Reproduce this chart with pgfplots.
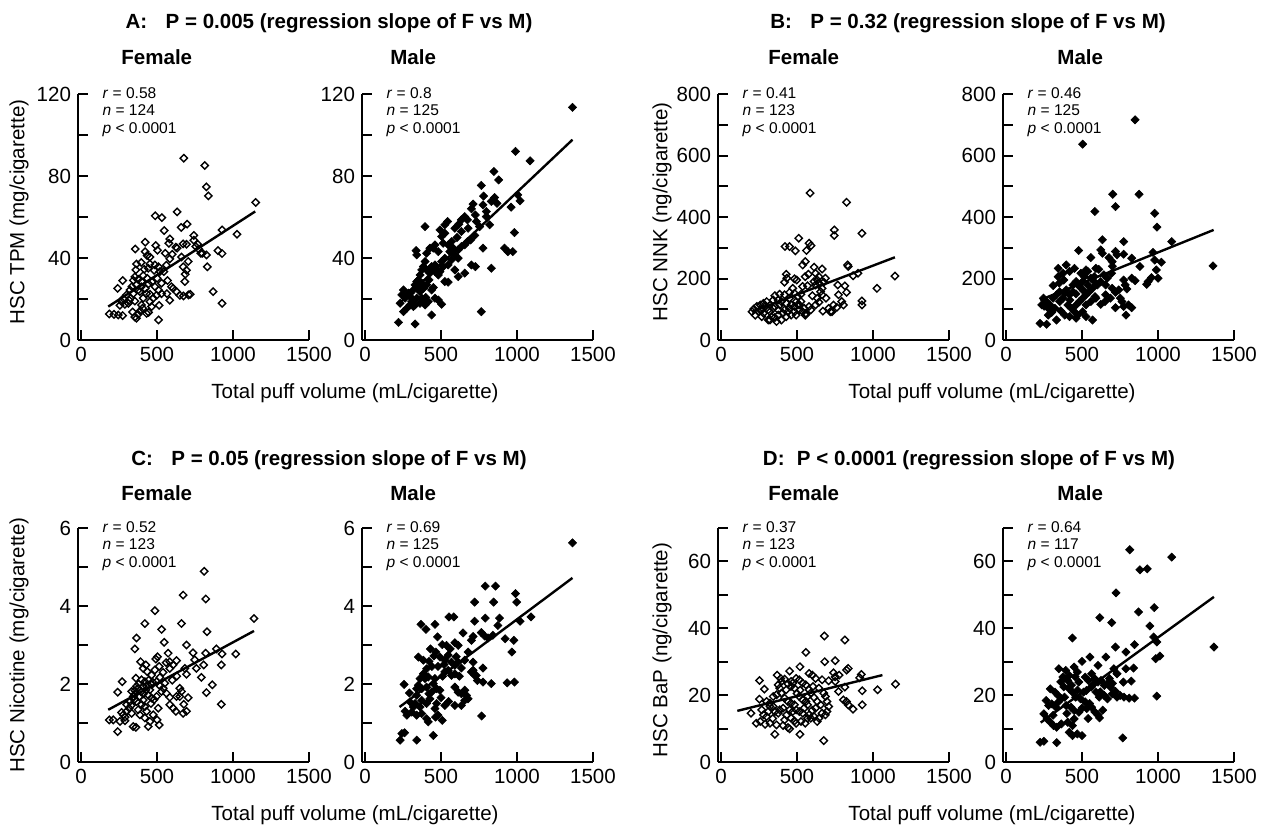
\documentclass[border=0pt]{standalone}
\usepackage{fontspec}
\setmainfont{Liberation Sans}
\usepackage{pgfplots}
\pgfplotsset{compat=1.18}

\newcommand{\mainfs}{\fontsize{10.3}{12}\selectfont}
\newcommand{\annfs}{\fontsize{7.8}{8.75}\selectfont}

\pgfplotsset{
  panel/.style={
    scale only axis, width=115.5bp, anchor=south west,
    axis lines*=left, axis line style={line width=1bp, -},
    tick align=inside, major tick length=5bp,
    tick style={line width=1bp, black},
    xmin=-20, xmax=1500, xtick={0,500,1000,1500},
    tick label style={font=\mainfs},
    /pgf/number format/assume math mode=true,
    /pgf/number format/1000 sep={},
    clip=false,
  },
  fem/.style={only marks, mark=square, mark size=1.3bp,
    mark options={rotate=45, draw=black, line width=0.7bp}},
  mal/.style={only marks, mark=square*, mark size=1.45bp,
    mark options={rotate=45, draw=black, fill=black, line width=0.3bp}},
  reg/.style={black, line width=1.2bp, no marks},
}

% r, n, p lines in the top left corner of a panel
\newcommand{\annot}[2]{%
  \node[anchor=base west, inner sep=0, font=\annfs, yshift=-2.2bp] at (rel axis cs:0.105,1) {\textit{r} = #1};
  \node[anchor=base west, inner sep=0, font=\annfs, yshift=-10.9bp] at (rel axis cs:0.105,1) {\textit{n} = #2};
  \node[anchor=base west, inner sep=0, font=\annfs, yshift=-19.6bp] at (rel axis cs:0.105,1) {\textit{p} < 0.0001};
}

\begin{document}
\begin{tikzpicture}
\path[use as bounding box] (0,0) rectangle (636bp,-415bp);

% ---------- titles and labels ----------
\node[font=\mainfs\bfseries] at (164.5bp,-11.5bp) {A:\hspace{0.9em}P = 0.005 (regression slope of F vs M)};
\node[font=\mainfs\bfseries] at (484bp,-11.5bp) {B:\hspace{0.9em}P = 0.32 (regression slope of F vs M)};
\node[font=\mainfs\bfseries] at (164.5bp,-230bp) {C:\hspace{0.9em}P = 0.05 (regression slope of F vs M)};
\node[font=\mainfs\bfseries] at (484.5bp,-230bp) {D:\hspace{0.6em}P < 0.0001 (regression slope of F vs M)};

\foreach \yy in {-28.5,-246.5}{
  \node[font=\mainfs\bfseries, anchor=west, inner sep=0] at (60.5bp,\yy bp) {Female};
  \node[font=\mainfs\bfseries, anchor=west, inner sep=0] at (195bp,\yy bp) {Male};
  \node[font=\mainfs\bfseries, anchor=west, inner sep=0] at (384bp,\yy bp) {Female};
  \node[font=\mainfs\bfseries, anchor=west, inner sep=0] at (528.5bp,\yy bp) {Male};
}

\node[font=\mainfs] at (177.5bp,-196.5bp) {Total puff volume (mL/cigarette)};
\node[font=\mainfs] at (496bp,-196.5bp) {Total puff volume (mL/cigarette)};
\node[font=\mainfs] at (177.5bp,-407.5bp) {Total puff volume (mL/cigarette)};
\node[font=\mainfs] at (496bp,-407.5bp) {Total puff volume (mL/cigarette)};

\node[font=\mainfs, rotate=90] at (9.5bp,-106bp) {HSC TPM (mg/cigarette)};
\node[font=\mainfs, rotate=90] at (331bp,-106bp) {HSC NNK (ng/cigarette)};
\node[font=\mainfs, rotate=90] at (9.5bp,-322.5bp) {HSC Nicotine (mg/cigarette)};
\node[font=\mainfs, rotate=90] at (331bp,-325bp) {HSC BaP (ng/cigarette)};

% ---------- A: TPM ----------
\begin{axis}[panel, at={(39bp,-170bp)}, height=123bp,
  ymin=0, ymax=120, ytick={0,20,...,120}, yticklabels={0,,40,,80,,120}]
\addplot[fem] coordinates {
(676,88.7)(814,85.1)(825,74.7)(838,70.3)(1149,67.1)(632,62.5)(488,60.6)(532,59.7)(698,56.5)(659,54.9)
(928,53.7)(1026,51.6)(547,53.4)(742,51.0)(584,49.3)(578,47.2)(422,47.7)(672,46.9)(624,45.3)(492,46.1)
(503,43.8)(357,44.4)(755,45.6)(775,44.3)(799,42.3)(825,41.5)(901,43.6)(928,42.2)(554,42.3)(600,41.8)
(661,40.5)(422,43.1)(435,41.2)(453,40.5)(365,37.1)(396,37.8)(453,37.1)(486,36.6)(510,35.7)(562,36.5)
(519,33.4)(481,34.0)(672,35.7)(694,34.0)(685,32.1)(705,38.3)(831,35.7)(361,34.2)(354,30.8)(344,29.1)
(409,31.4)(435,30.1)(466,28.3)(274,29.0)(241,25.2)(335,26.0)(365,26.9)(396,26.0)(422,25.1)(387,23.6)
(431,22.6)(344,22.6)(376,24.4)(486,26.0)(510,24.3)(497,21.8)(475,20.4)(569,29.0)(683,28.5)(530,22.6)
(565,22.6)(584,19.4)(628,23.6)(650,21.8)(674,21.5)(707,22.0)(718,22.3)(869,23.6)(928,17.9)(300,22.0)
(278,20.2)(317,19.4)(289,17.4)(256,16.9)(267,18.7)(514,16.9)(186,12.7)(217,12.5)(245,12.2)(274,11.9)
(354,11.2)(376,12.5)(389,14.2)(405,15.5)(431,13.0)(444,13.5)(510,9.8)(339,13.7)(365,10.6)(453,22.3)
(322,24.4)(398,28.5)(416,34.5)(501,30.1)(595,26.0)(606,25.2)(545,33.4)(584,39.6)(632,44.8)(742,48.7)
(768,46.7)(788,42.3)(326,20.4)(311,17.9)(453,18.7)(464,16.3)(409,20.4)(398,17.1)(354,19.0)(530,27.7)
(444,27.4)(694,46.7)(442,35.0)(376,29.6)
};
\addplot[reg] coordinates {(179,16.3) (1146,62.7)};
\annot{0.58}{124}
\end{axis}

\begin{axis}[panel, at={(181bp,-170bp)}, height=123bp,
  ymin=0, ymax=120, ytick={0,20,...,120}, yticklabels={0,,40,,80,,120}]
\addplot[mal] coordinates {
(1365,113.5)(990,92.0)(1086,87.4)(848,82.2)(879,78.1)(765,75.4)(780,70.2)(852,69.5)(868,66.7)(831,67.6)
(1005,70.8)(1020,67.9)(961,64.8)(711,66.3)(700,64.0)(726,61.0)(776,65.9)(798,62.7)(820,56.2)(656,60.2)
(634,58.6)(674,58.6)(617,56.5)(591,54.5)(543,57.8)(525,56.2)(493,53.7)(395,55.3)(722,51.0)(694,48.8)
(674,48.0)(983,52.4)(656,46.4)(634,45.6)(613,44.0)(569,48.0)(547,46.4)(514,47.2)(460,46.4)(449,44.8)
(482,43.1)(776,44.8)(918,44.8)(940,43.1)(972,43.1)(336,43.6)(340,41.5)(591,41.5)(613,39.9)(569,39.1)
(525,39.9)(504,38.3)(547,36.6)(460,36.6)(438,35.8)(471,34.2)(395,38.3)(384,35.8)(373,34.2)(700,36.6)
(726,35.8)(831,35.0)(591,34.2)(613,30.9)(656,32.6)(525,28.5)(547,28.2)(362,31.7)(351,29.3)(373,27.7)
(405,34.2)(427,32.6)(460,33.4)(482,31.7)(449,25.6)(438,24.4)(318,24.4)(296,22.8)(253,24.4)(242,22.0)
(340,20.4)(373,20.4)(399,20.8)(416,18.7)(307,18.7)(329,17.1)(362,17.9)(318,16.3)(504,17.4)(482,19.5)
(460,20.4)(231,17.9)(253,13.8)(438,12.2)(765,13.8)(220,8.6)(329,7.8)(340,28.5)(329,26.9)(286,22.8)
(264,20.4)(362,23.6)(384,25.2)(405,26.9)(421,29.3)(514,35.8)(493,33.4)(558,43.1)(580,44.8)(634,52.9)
(678,54.5)(732,57.8)(754,55.3)(798,60.2)(504,50.5)(525,52.1)(427,44.8)(405,42.3)(296,17.1)(275,15.5)
(307,20.4)(395,17.1)(384,18.7)(605,50.0)(350,25.5)
};
\addplot[reg] coordinates {(220,17.4) (1365,97.7)};
\annot{0.8}{125}
\end{axis}

% ---------- B: NNK ----------
\begin{axis}[panel, at={(359bp,-170bp)}, height=123bp,
  ymin=0, ymax=800, ytick={0,100,...,800}, yticklabels={0,,200,,400,,600,,800}]
\addplot[fem] coordinates {
(586,478)(826,448)(745,358)(745,340)(927,347)(511,331)(579,315)(592,307)(421,304)(451,304)
(489,290)(562,291)(554,255)(537,244)(612,237)(665,231)(833,244)(837,239)(575,214)(622,217)
(644,206)(429,214)(433,201)(418,188)(498,195)(483,199)(644,185)(687,201)(869,209)(901,217)
(1144,208)(569,176)(768,179)(815,176)(826,155)(622,179)(665,168)(601,144)(633,136)(665,147)
(691,136)(1026,168)(927,127)(927,114)(740,114)(762,106)(730,92)(708,103)(794,125)(805,114)
(670,94)(719,92)(590,98)(558,84)(554,81)(418,147)(451,136)(483,152)(504,141)(526,149)
(354,144)(386,149)(376,130)(343,130)(397,125)(429,119)(461,114)(494,125)(515,114)(300,125)
(279,119)(258,114)(236,109)(204,92)(225,81)(258,98)(268,76)(279,87)(322,92)(333,76)
(311,65)(354,73)(376,81)(408,87)(418,98)(440,92)(461,81)(483,92)(515,98)(537,92)
(558,87)(397,65)(365,60)(322,65)(290,109)(322,114)(354,109)(386,114)(429,76)(451,103)
(483,109)(504,114)(526,125)(494,81)(547,103)(579,109)(644,123)(622,114)(343,103)(311,98)
(376,98)(247,92)(268,98)(215,101)(451,155)(472,168)(612,190)(633,195)(554,206)(537,174)
(676,188)(655,157)(773,147)
};
\addplot[reg] coordinates {(204,92) (1144,269)};
\annot{0.41}{123}
\end{axis}

\begin{axis}[panel, at={(501.5bp,-170bp)}, height=123bp,
  ymin=0, ymax=800, ytick={0,100,...,800}, yticklabels={0,,200,,400,,600,,800}]
\addplot[mal] coordinates {
(849,716)(504,637)(702,474)(875,474)(720,434)(584,418)(978,412)(993,367)(634,326)(774,320)
(1090,320)(478,291)(623,293)(634,282)(720,288)(730,277)(774,279)(558,268)(677,268)(698,255)
(827,266)(881,239)(967,285)(978,260)(1022,253)(526,228)(537,223)(591,233)(343,233)(396,244)
(375,217)(343,206)(310,177)(493,217)(515,206)(558,201)(580,190)(644,212)(666,201)(694,217)
(655,179)(698,168)(741,163)(720,155)(774,195)(827,201)(849,193)(935,190)(957,203)(1000,201)
(989,228)(925,181)(784,179)(795,166)(591,136)(586,141)(623,116)(651,125)(720,105)(774,109)
(789,81)(827,105)(569,65)(526,76)(461,71)(472,81)(224,54)(267,51)(278,81)(332,65)
(289,114)(321,103)(353,125)(375,136)(386,152)(396,163)(418,147)(440,157)(407,114)(429,103)
(450,92)(461,114)(483,125)(504,136)(526,147)(547,157)(569,168)(440,179)(461,190)(483,174)
(310,136)(332,147)(353,157)(267,125)(246,136)(235,114)(278,103)(601,179)(623,190)(580,206)
(504,190)(537,179)(418,223)(450,233)(1362,241)(752,136)(763,125)(806,114)(655,147)(687,136)
(386,81)(418,76)(504,92)(526,114)(558,125)(300,90)(360,95)(420,130)(460,150)(510,160)
(350,185)(380,195)(250,110)(610,230)(700,240)
};
\addplot[reg] coordinates {(224,130) (1366,358)};
\annot{0.46}{125}
\end{axis}

% ---------- C: Nicotine ----------
\begin{axis}[panel, at={(39bp,-381bp)}, height=117bp,
  ymin=0, ymax=6, ytick={0,1,...,6}, yticklabels={0,,2,,4,,6}]
\addplot[fem] coordinates {
(810,4.89)(672,4.28)(821,4.18)(486,3.88)(420,3.55)(661,3.55)(1138,3.68)(530,3.40)(829,3.34)(365,3.18)
(354,2.90)(547,3.07)(694,3.00)(573,2.79)(503,2.70)(492,2.64)(737,2.80)(820,2.79)(891,2.90)(928,2.77)
(1018,2.77)(392,2.57)(427,2.49)(409,2.40)(435,2.32)(584,2.57)(628,2.60)(606,2.49)(584,2.40)(683,2.40)
(694,2.25)(748,2.62)(759,2.40)(807,2.49)(923,2.49)(514,2.45)(486,2.36)(464,2.23)(361,2.15)(271,2.06)
(241,1.79)(398,2.11)(420,2.06)(376,1.89)(354,1.83)(519,2.17)(497,2.06)(792,2.17)(864,1.98)(825,1.78)
(923,1.48)(541,1.89)(562,1.76)(584,1.66)(628,1.68)(650,1.89)(661,1.81)(650,1.68)(705,1.65)(676,1.48)
(694,1.30)(672,1.25)(584,1.47)(606,1.38)(624,1.30)(464,1.98)(453,1.85)(442,1.72)(464,1.64)(333,1.81)
(354,1.74)(387,1.68)(365,1.55)(398,1.47)(420,1.42)(376,1.34)(387,1.21)(508,1.38)(475,1.21)(501,1.08)
(514,0.95)(442,0.91)(343,0.91)(361,0.89)(278,1.21)(256,1.04)(289,1.06)(267,1.27)(300,1.47)(322,1.55)
(186,1.08)(212,1.08)(241,0.78)(317,1.38)(333,1.25)(420,1.13)(453,1.04)(431,1.30)(409,1.59)(497,1.68)
(530,1.81)(551,2.02)(409,1.94)(427,1.85)(344,1.68)(365,1.94)(380,2.00)(395,1.80)(410,1.75)(430,1.95)
(445,2.10)(470,2.05)(350,1.60)(330,1.45)(300,1.30)(290,1.15)(460,1.50)(480,1.60)(520,1.95)(540,2.30)
(600,2.10)(630,2.20)(560,2.55)
};
\addplot[reg] coordinates {(179,1.34) (1138,3.36)};
\annot{0.52}{123}
\end{axis}

\begin{axis}[panel, at={(181bp,-381bp)}, height=117bp,
  ymin=0, ymax=6, ytick={0,1,...,6}, yticklabels={0,,2,,4,,6}]
\addplot[mal] coordinates {
(1365,5.62)(791,4.51)(859,4.51)(990,4.32)(998,4.10)(721,4.10)(846,4.10)(552,3.72)(584,3.72)(368,3.53)
(401,3.40)(460,3.53)(721,3.61)(791,3.69)(885,3.69)(874,3.50)(1020,3.61)(1092,3.72)(645,3.31)(711,3.22)
(700,3.12)(765,3.32)(787,3.23)(809,3.18)(841,3.25)(922,3.16)(979,3.12)(966,2.82)(477,3.21)(508,3.01)
(536,2.99)(591,3.06)(613,2.99)(466,2.82)(453,2.72)(421,2.58)(384,2.61)(351,2.69)(493,2.69)(525,2.61)
(547,2.74)(569,2.56)(591,2.48)(613,2.56)(634,2.41)(656,2.61)(678,2.82)(711,2.56)(700,2.31)(722,2.22)
(739,2.09)(776,2.41)(831,2.01)(935,2.03)(983,2.05)(405,2.39)(384,2.26)(395,2.14)(416,2.18)(362,2.14)
(351,1.97)(373,1.88)(405,1.92)(460,2.14)(449,2.01)(471,1.88)(493,1.84)(547,2.35)(569,2.22)(591,2.26)
(525,2.31)(257,1.99)(292,1.77)(340,1.88)(340,1.71)(373,1.58)(405,1.50)(427,1.62)(296,1.54)(329,1.50)
(318,1.41)(362,1.41)(264,1.30)(275,1.20)(307,1.28)(340,1.20)(373,1.24)(405,1.11)(416,1.03)(776,2.05)
(767,1.18)(242,0.73)(260,0.75)(449,0.68)(340,0.56)(231,0.56)(460,1.37)(464,1.15)(508,1.07)(471,1.50)
(525,1.45)(591,1.45)(656,1.58)(634,1.45)(591,1.92)(613,1.79)(634,1.75)(656,1.84)(667,1.71)(678,1.62)
(711,2.35)(732,2.22)(430,2.90)(440,2.45)(480,2.45)(510,2.20)(520,2.50)(560,2.90)(600,2.70)(620,2.20)
(420,1.75)(440,1.80)(500,1.65)(550,1.55)(480,1.20)
};
\addplot[reg] coordinates {(227,1.41) (1365,4.72)};
\annot{0.69}{125}
\end{axis}

% ---------- D: BaP ----------
\begin{axis}[panel, at={(359bp,-381bp)}, height=117bp,
  ymin=0, ymax=70, ytick={0,10,...,70}, yticklabels={0,,20,,40,,60,}]
\addplot[fem] coordinates {
(680,37.7)(815,36.5)(558,32.8)(682,30.0)(751,30.3)(519,28.5)(451,27.2)(837,28.0)(826,27.5)(579,26.5)
(923,26.2)(912,25.2)(740,26.7)(751,25.5)(369,26.0)(393,25.0)(418,24.8)(253,24.4)(494,25.0)(515,24.6)
(537,23.6)(558,23.1)(601,26.0)(622,25.0)(665,24.6)(708,24.3)(440,23.4)(461,22.6)(483,22.1)(429,21.6)
(285,21.8)(605,22.6)(579,21.6)(644,22.1)(676,20.6)(687,19.6)(773,21.1)(815,22.4)(929,21.3)(1030,21.6)
(1148,23.3)(397,20.6)(365,20.1)(343,19.6)(253,18.8)(300,18.1)(322,17.6)(418,19.1)(440,18.1)(461,17.6)
(483,17.1)(515,19.6)(537,18.6)(558,18.1)(569,17.1)(612,19.3)(633,18.1)(655,17.1)(622,16.1)(697,18.1)
(708,16.6)(805,18.6)(826,18.1)(837,17.1)(869,15.8)(929,17.1)(197,14.6)(268,15.6)(279,14.1)(300,13.6)
(343,16.6)(354,15.1)(376,14.6)(386,15.6)(408,16.1)(451,15.6)(472,15.1)(494,15.6)(515,15.1)(537,14.6)
(579,14.1)(590,13.1)(612,13.6)(633,12.1)(687,14.1)(697,15.1)(232,11.6)(258,12.1)(290,11.3)(322,11.6)
(365,11.1)(408,10.9)(440,10.3)(494,11.6)(526,12.1)(354,8.3)(451,9.9)(519,8.3)(676,6.4)(376,23.1)
(397,24.1)(386,22.1)(322,16.6)(311,15.1)(569,19.6)(590,20.6)(461,24.1)(472,23.6)(644,13.1)(665,14.6)
(554,11.6)(569,13.1)(547,16.1)(751,24.1)(777,26.0)(418,12.6)(461,13.1)(483,12.3)(500,20.5)(520,21.5)
(600,15.5)(430,14.0)(340,13.0)
};
\addplot[reg] coordinates {(107,15.3) (1062,26.0)};
\annot{0.37}{123}
\end{axis}

\begin{axis}[panel, at={(501.5bp,-381bp)}, height=117bp,
  ymin=0, ymax=70, ytick={0,10,...,70}, yticklabels={0,,20,,40,,60,}]
\addplot[mal] coordinates {
(814,63.5)(1090,61.3)(881,57.5)(929,57.8)(724,50.6)(617,43.2)(695,41.7)(872,44.9)(975,46.2)(946,40.7)
(437,37.1)(971,37.4)(992,35.9)(1368,34.4)(720,34.4)(789,32.9)(845,35.1)(500,30.1)(552,31.4)(605,28.9)
(657,31.4)(985,30.9)(1012,31.7)(347,27.9)(393,27.4)(448,28.4)(469,26.9)(789,27.9)(839,28.1)(374,25.4)
(416,25.9)(406,24.4)(479,23.9)(521,25.4)(542,24.4)(563,26.4)(584,24.9)(605,23.9)(625,24.4)(647,22.9)
(667,23.4)(688,22.4)(720,21.1)(772,23.9)(824,24.2)(776,19.4)(810,19.1)(845,19.1)(709,27.9)(730,26.4)
(992,19.7)(291,21.9)(322,20.9)(343,19.9)(364,18.9)(385,19.4)(416,21.9)(437,20.9)(458,19.4)(490,18.9)
(510,20.9)(529,21.4)(561,22.4)(592,20.9)(613,19.4)(646,19.9)(667,18.9)(699,20.4)(730,19.4)(751,19.9)
(264,18.4)(280,16.9)(301,17.4)(328,16.4)(343,17.9)(395,16.9)(427,16.4)(448,15.4)(479,14.9)(500,16.1)
(531,16.0)(563,16.4)(584,15.0)(605,14.0)(615,13.2)(636,15.5)(249,14.4)(270,12.9)(291,11.9)(312,10.9)
(333,10.4)(364,11.4)(406,11.9)(437,10.9)(448,12.9)(416,8.9)(437,7.9)(469,8.4)(500,7.9)(224,5.9)
(249,6.2)(333,5.8)(768,7.2)(360,24.0)(380,22.5)(430,23.0)(470,21.5)(520,18.0)(550,17.5)(570,23.0)
(620,21.0)(680,25.0)(700,23.5)(540,13.0)(455,25.5)(310,14.0)(400,14.5)
};
\addplot[reg] coordinates {(228,11.8) (1368,49.4)};
\annot{0.64}{117}
\end{axis}
\end{tikzpicture}
\end{document}
